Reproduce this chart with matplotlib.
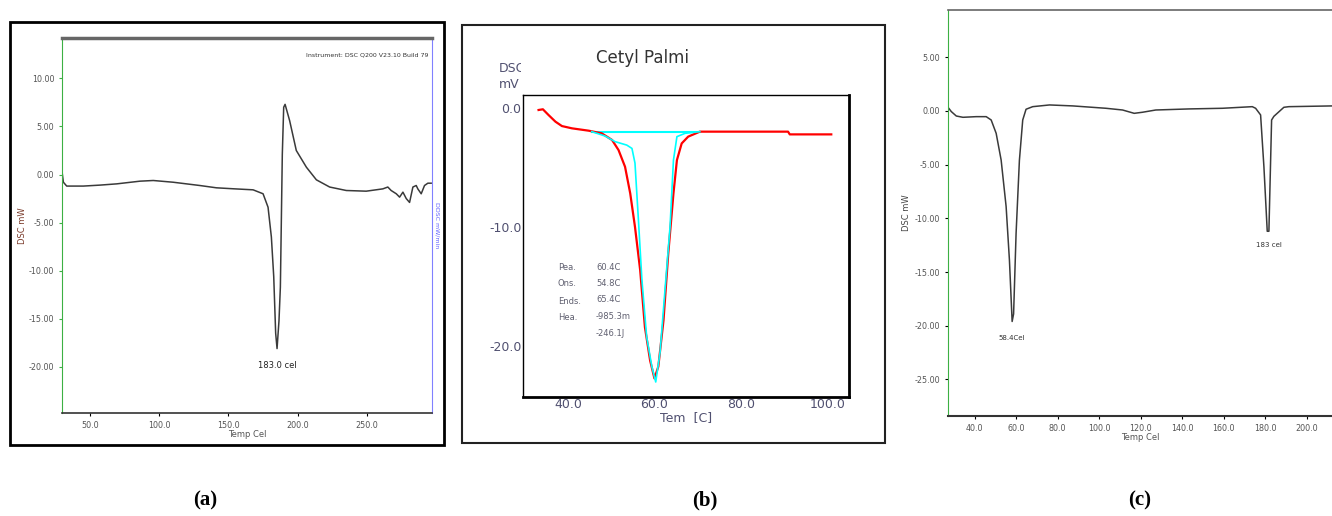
import numpy as np
import matplotlib
matplotlib.use("Agg")
import matplotlib.pyplot as plt
from matplotlib.patches import Rectangle
from matplotlib.transforms import Bbox, TransformedBbox

W, H = 1332, 516

# (a) DSC trace, sample heated to ~300 C
a_temp = [30.0, 30.8, 33.2, 45.2, 57.2, 69.3, 86.1, 95.7, 110.1, 129.3, 141.3, 153.4,
          167.8, 175.0, 178.6, 181.0, 182.7, 184.1, 185.1, 186.5, 187.5, 188.2, 188.9,
          189.9, 190.9, 194.2, 199.0, 206.3, 213.5, 223.1, 235.1, 249.5, 261.5, 265.1,
          267.5, 271.2, 273.6, 276.0, 278.4, 280.8, 283.2, 285.6, 286.8, 289.2, 291.6,
          294.0, 296.4]
a_dsc = [0.1, -0.8, -1.2, -1.2, -1.1, -0.97, -0.69, -0.62, -0.8, -1.14, -1.38, -1.48,
         -1.59, -2.0, -3.4, -6.5, -10.6, -16.5, -18.1, -15.2, -11.7, -4.8, 2.1,
         7.0, 7.3, 5.6, 2.5, 0.76, -0.55, -1.3, -1.66, -1.73, -1.49, -1.3,
         -1.66, -2.0, -2.35, -1.83, -2.5, -2.9, -1.3, -1.14, -1.5, -2.0, -1.14,
         -0.9, -0.9]
a_xticks = [50, 100, 150, 200, 250]
a_yticks = [10, 5, 0, -5, -10, -15, -20]

# (b) Cetyl palmitate, red measured curve and cyan fitted peak
b_temp = [33.2, 34.2, 35.5, 37.1, 38.6, 40.9, 44.8, 47.8, 50.2, 51.7, 53.2, 54.4,
          55.5, 56.7, 57.8, 59.0, 60.0, 60.9, 62.1, 63.2, 64.4, 65.2, 66.3, 67.8,
          70.5, 90.9, 91.3, 100.9]
b_dsc = [-0.14, -0.08, -0.56, -1.12, -1.49, -1.68, -1.88, -2.10, -2.66, -3.51, -4.91,
         -7.15, -9.96, -13.6, -18.4, -21.2, -22.7, -21.7, -17.8, -12.2, -7.15, -4.35,
         -2.95, -2.38, -1.96, -1.96, -2.19, -2.19]
b_fit_temp = [45.5, 48.6, 50.9, 53.6, 54.8, 55.5, 56.3, 57.1, 58.2, 59.4, 60.3,
              61.3, 62.5, 63.6, 64.4, 65.2, 67.1, 70.5]
b_fit_dsc = [-1.96, -2.33, -2.8, -3.09, -3.37, -4.6, -9.4, -14.4, -19.2, -21.7, -23.0,
             -20.5, -15.0, -10.0, -4.35, -2.38, -2.1, -1.96]
b_base_temp = [45.5, 70.5]
b_base_dsc = [-1.96, -1.96]
b_xticks = [40, 60, 80, 100]
b_yticks = [0, -10, -20]
b_info_keys = ["Pea.", "Ons.", "Ends.", "Hea."]
b_info_vals = ["60.4C", "54.8C", "65.4C", "-985.3m", "-246.1J"]

# (c) DSC trace with two melting peaks
c_temp = [27.2, 28.8, 31.2, 34.4, 40.8, 45.6, 48.0, 50.4, 52.8, 55.2, 56.8, 58.1,
          58.8, 60.0, 61.6, 63.2, 64.8, 68.0, 76.1, 87.3, 103.3, 111.3, 116.9, 120.9,
          127.3, 143.4, 159.4, 173.8, 175.4, 177.8, 179.4, 181.0, 181.8, 183.1, 184.2,
          185.8, 189.0, 191.4, 212.3]
c_dsc = [0.34, -0.06, -0.47, -0.59, -0.53, -0.53, -0.84, -2.08, -4.57, -8.9, -13.9,
         -19.6, -18.9, -11.4, -4.6, -0.84, 0.16, 0.4, 0.56, 0.47, 0.25, 0.09, -0.22,
         -0.12, 0.09, 0.19, 0.25, 0.4, 0.25, -0.37, -5.2, -11.2, -11.2, -0.84, -0.5,
         -0.22, 0.34, 0.4, 0.47]
c_xticks = [40, 60, 80, 100, 120, 140, 160, 180, 200]
c_yticks = [5, 0, -5, -10, -15, -20, -25]


def px_rect(x0, y0, x1, y1):
    return [x0 / W, 1 - y1 / H, (x1 - x0) / W, (y1 - y0) / H]


def fx(x):
    return x / W


def fy(y):
    return 1 - y / H


fig = plt.figure(figsize=(W / 100, H / 100), dpi=100)
fig.patch.set_facecolor("white")

# ---------- panel (a) ----------
fig.add_artist(Rectangle((fx(10), fy(445)), (444 - 10) / W, (445 - 22) / H,
                         transform=fig.transFigure, fill=False, ec="black", lw=2))
ax1 = fig.add_axes(px_rect(62, 38, 432, 413))
ax1.plot(a_temp, a_dsc, color="#3a3a3a", lw=1.1)
ax1.set_xlim(29.8, 297)
ax1.set_ylim(-24.8, 14.2)
ax1.set_xticks(a_xticks)
ax1.set_xticklabels([f"{v:.1f}" for v in a_xticks])
ax1.set_yticks(a_yticks)
ax1.set_yticklabels([f"{v:.2f}" for v in a_yticks])
ax1.tick_params(axis="both", labelsize=5.8, labelcolor="#555555", length=2, width=0.8)
ax1.tick_params(axis="y", color="#3cb043")
ax1.spines["top"].set_color("#666666")
ax1.spines["top"].set_linewidth(2.5)
ax1.spines["bottom"].set_color("#333333")
ax1.spines["bottom"].set_linewidth(1.2)
ax1.spines["left"].set_color("#3cb043")
ax1.spines["right"].set_color("#8080ff")
ax1.set_xlabel("Temp Cel", fontsize=6, color="#555555", labelpad=0)
ax1.set_ylabel("DSC mW", fontsize=6, color="#7a3a2a", labelpad=1)
ax1.text(0.99, 0.955, "Instrument: DSC Q200 V23.10 Build 79", transform=ax1.transAxes,
         ha="right", va="center", fontsize=4.5, color="#333333")
fig.text(fx(437), fy(225), "DDSC mW/min", rotation=270, fontsize=4.5, color="#6060ff",
         ha="center", va="center")
imin = int(np.argmin(a_dsc))
ax1.annotate("183.0 cel", (a_temp[imin], a_dsc[imin]), xytext=(0, -14),
             textcoords="offset points", ha="center", fontsize=6, color="#222222")

# ---------- panel (b) ----------
fig.add_artist(Rectangle((fx(462), fy(443)), (885 - 462) / W, (443 - 25) / H,
                         transform=fig.transFigure, fill=False, ec="#222222", lw=1.5))
ax2 = fig.add_axes(px_rect(523, 95, 849, 397))
ax2.plot(b_base_temp, b_base_dsc, color="#00ffff", lw=1.5)
ax2.plot(b_temp, b_dsc, color="#ff0000", lw=1.6)
ax2.plot(b_fit_temp, b_fit_dsc, color="#00ffff", lw=1.2)
ax2.set_xlim(29.6, 105.0)
ax2.set_ylim(-24.26, 1.12)
ax2.set_xticks(b_xticks)
ax2.set_xticklabels([f"{v:.1f}" for v in b_xticks])
ax2.set_yticks(b_yticks)
ax2.set_yticklabels(["0.0", "-10.0", "-20.0"])
ax2.tick_params(axis="both", labelsize=9, labelcolor="#505070", length=0, pad=1)
for s in ["left", "top"]:
    ax2.spines[s].set_linewidth(1.0)
for s in ["right", "bottom"]:
    ax2.spines[s].set_linewidth(2.0)
ax2.set_xlabel("Tem  [C]", fontsize=9, color="#505070", labelpad=0)
fig.text(fx(642), fy(58), "Cetyl Palmi", fontsize=12, color="#333333",
         ha="center", va="center")
clip = TransformedBbox(Bbox([[fx(490), fy(95)], [fx(521), fy(55)]]), fig.transFigure)
for yy, s in [(68, "DSC"), (85, "mV")]:
    t = fig.text(fx(499), fy(yy), s, fontsize=9, color="#505070", ha="left", va="center")
    t.set_clip_box(clip)
    t.set_clip_on(True)
for i, k in enumerate(b_info_keys):
    fig.text(fx(558), fy(267 + i * 17), k, fontsize=6, color="#606070", va="center")
for i, v in enumerate(b_info_vals):
    fig.text(fx(596), fy(267 + i * 16.5), v, fontsize=6, color="#606070", va="center")

# ---------- panel (c) ----------
ax3 = fig.add_axes(px_rect(948, 10, 1332, 416))
ax3.plot(c_temp, c_dsc, color="#3a3a3a", lw=1.1)
ax3.set_xlim(27.2, 212.2)
ax3.set_ylim(-28.4, 9.4)
ax3.set_xticks(c_xticks)
ax3.set_xticklabels([f"{v:.1f}" for v in c_xticks])
ax3.set_yticks(c_yticks)
ax3.set_yticklabels([f"{v:.2f}" for v in c_yticks])
ax3.tick_params(axis="both", labelsize=5.8, labelcolor="#555555", length=2, width=0.8)
ax3.spines["right"].set_visible(False)
ax3.spines["top"].set_color("#666666")
ax3.spines["top"].set_linewidth(1.2)
ax3.spines["bottom"].set_color("#333333")
ax3.spines["bottom"].set_linewidth(1.5)
ax3.spines["left"].set_color("#3cb043")
ax3.set_xlabel("Temp Cel", fontsize=6, color="#555555", labelpad=0)
ax3.set_ylabel("DSC mW", fontsize=6, color="#444444", labelpad=3)
i1 = int(np.argmin(c_dsc))
ax3.annotate("58.4Cel", (c_temp[i1], c_dsc[i1]), xytext=(0, -13),
             textcoords="offset points", ha="center", fontsize=5, color="#333333")
ax3.annotate("183 cel", (181.8, -11.2), xytext=(0, -11),
             textcoords="offset points", ha="center", fontsize=5, color="#333333")

# ---------- captions ----------
for x, lab in [(205, "(a)"), (705, "(b)"), (1140, "(c)")]:
    fig.text(fx(x), fy(500), lab, fontsize=15, fontweight="bold",
             family="Liberation Serif", ha="center", va="center")

fig.savefig("out.png", dpi=100)
